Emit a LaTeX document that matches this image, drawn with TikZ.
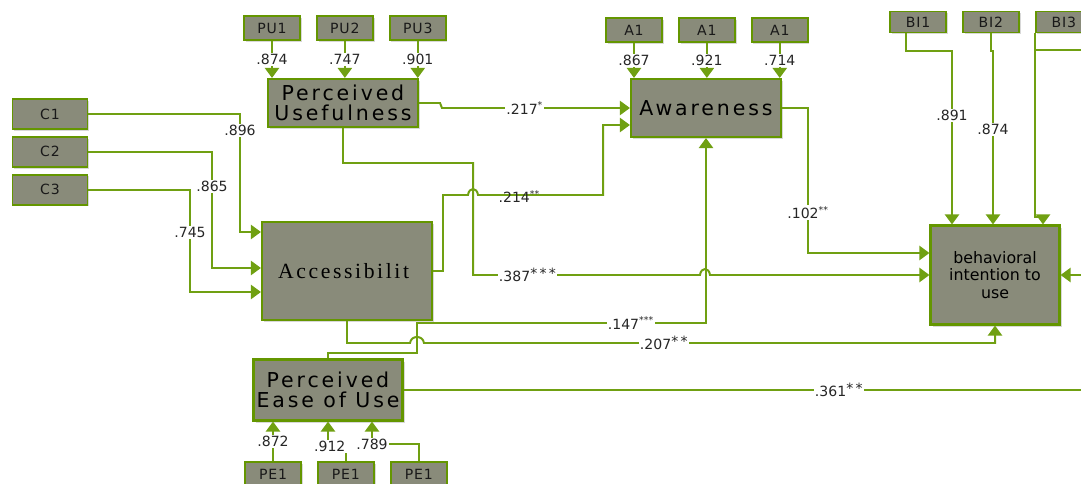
\documentclass[tikz,border=0pt]{standalone}
\usepackage{fontspec}
\setmainfont{DejaVu Sans}
\newfontfamily\cnstfont[LetterSpace=14]{DejaVu Sans}
\newfontfamily\accfont[LetterSpace=12]{Liberation Serif}
\newfontfamily\indfont[LetterSpace=6]{DejaVu Sans}
\usetikzlibrary{arrows.meta,shadows,positioning}

\definecolor{linegreen}{RGB}{112,160,18}
\definecolor{boxgreen}{RGB}{100,150,0}
\definecolor{boxgray}{RGB}{137,139,122}

\begin{document}
\begin{tikzpicture}[x=0.03cm,y=-0.03cm,->,>={Triangle[width=12pt,length=8.5pt]},
    color=linegreen,line width=1.7pt,node distance=0.45cm,
    construct/.style={draw=boxgreen,line width=1.8pt,fill=boxgray,text=black,
      align=center,inner sep=0pt,font=\cnstfont\fontsize{17.5}{17.5}\selectfont,
      drop shadow={shadow xshift=0.07cm,shadow yshift=-0.07cm,fill=black!30}},
    indicator/.style={draw=boxgreen,line width=1.6pt,fill=boxgray,text=black!90,
      inner sep=0pt,minimum width=1.68cm,minimum height=0.72cm,
      font=\indfont\fontsize{12}{12}\selectfont,
      drop shadow={shadow xshift=0.05cm,shadow yshift=-0.05cm,fill=black!30}},
    weight/.style={fill=white,inner sep=1pt,text=black!85,
      font=\fontsize{12}{12}\selectfont}]

  \clip (0,0) rectangle (1081,484);

  % constructs
  \node[construct,minimum width=4.5cm,minimum height=1.44cm] (PU) at (343,103) {Perceived\\Usefulness};
  \node[construct,minimum width=4.5cm,minimum height=1.74cm] (Aw) at (706,108) {Awareness};
  \node[construct,minimum width=5.1cm,minimum height=2.94cm,
    font=\accfont\fontsize{18.5}{18.5}\selectfont] (Acc) at (347,271) {Accessibilit\hspace*{0.2cm}};
  \node[construct,minimum width=4.47cm,minimum height=1.83cm] (PE) at (328,390) {Perceived\\Ease of Use};
  \node[construct,minimum width=3.87cm,minimum height=2.97cm,
    font=\fontsize{13.5}{15}\selectfont] (BI) at (995,275) {behavioral\\intention to\\use};

  % indicators
  \node[indicator] (PU1) at (272,28) {PU1};
  \node[indicator,right=of PU1] (PU2) {PU2};
  \node[indicator,right=of PU2] (PU3) {PU3};
  \node[indicator] (Aw1) at (634,30) {A1};
  \node[indicator,right=of Aw1] (Aw2) {A1};
  \node[indicator,right=of Aw2] (Aw3) {A1};
  \node[indicator,minimum height=0.63cm] (BI1) at (918,22) {BI1};
  \node[indicator,minimum height=0.63cm,right=of BI1] (BI2) {BI2};
  \node[indicator,minimum height=0.63cm,right=of BI2] (BI3) {BI3};
  \node[indicator,minimum width=2.25cm,minimum height=0.9cm] (C1) at (50,114) {C1};
  \node[indicator,minimum width=2.25cm,minimum height=0.9cm,below=0.18cm of C1] (C2) {C2};
  \node[indicator,minimum width=2.25cm,minimum height=0.9cm,below=0.18cm of C2] (C3) {C3};
  \node[indicator] (pe1) at (273,474) {PE1};
  \node[indicator,right=of pe1] (pe2) {PE1};
  \node[indicator,right=of pe2] (pe3) {PE1};

  % measurement paths
  \path (PU1) edge node[weight] {.874} (PU1 |- PU.north)
        (PU2) edge node[weight] {.747} (PU2 |- PU.north)
        (PU3) edge node[weight] {.901} (PU3 |- PU.north)
        (Aw1) edge node[weight] {.867} (Aw1 |- Aw.north)
        (Aw2) edge node[weight] {.921} (Aw2 |- Aw.north)
        (Aw3) edge node[weight] {.714} (Aw3 |- Aw.north)
        (pe1) edge node[weight] {.872} (pe1 |- PE.south);
  \draw (pe2.north) -- ++(0,-15) -| node[weight,pos=0.45] {.912} (PE.south);
  \draw (pe3.north) -- ++(0,-17) -| node[weight,pos=0.5] {.789} ([xshift=1.32cm]PE.south);
  \draw (C1.east) -| node[weight,pos=0.57] {.896} (240,232) -- (Acc.west |- 0,232);
  \draw (C2.east) -| node[weight,pos=0.65] {.865} (212,268) -- (Acc.west |- 0,268);
  \draw (C3.east) -| node[weight,pos=0.71] {.745} (190,292) -- (Acc.west |- 0,292);
  \draw ([xshift=-0.36cm]BI1.south) |- (952,51) -- node[weight,pos=0.37] {.891} (952,0 |- BI.north);
  \draw (BI2.south) |- (993,51) -- node[weight,pos=0.45] {.874} (993,0 |- BI.north);
  \draw (BI3.south west) |- (1043,217) -- (1043,0 |- BI.north);
  \draw[-] (BI3.south west) -- ++(0,17) -- ++(60,0);

  % structural paths
  \draw (PU.east) -- (440,103) -- (442,108) -- node[weight,pos=0.44] {.217\textsuperscript{*}} (Aw.west);
  \draw (Acc.east) -| (443,195) -- (468,195) .. controls (469,187) and (477,187) .. (478,195)
    -- node[pos=0.33,yshift=-0.04cm,text=black!85,font=\fontsize{12}{12}\selectfont] {.214\textsuperscript{**}} (603,195)
    |- (Aw.west |- 0,125);
  \draw (PU.south) -- (343,163) -| (473,275) -- node[weight,pos=0.24] {.387\raisebox{0.4ex}{*\,*\,*}} (700,275)
    .. controls (701,267) and (709,267) .. (710,275) -- (BI.west);
  \draw (Aw.east) -| node[weight,pos=0.86] {.102\textsuperscript{**}} (808,253) -- (BI.west |- 0,253);
  \draw (PE.north) |- (417,353) -- (417,323) -| node[weight,pos=0.37] {.147\textsuperscript{***}} (Aw.south);
  \draw (Acc.south) |- (410,343) .. controls (411,335) and (423,335) .. (424,343)
    -| node[weight,pos=0.21] {.207\raisebox{0.4ex}{*\,*}} (BI.south);
  \draw (PE.east) -- node[weight,pos=0.625] {.361\raisebox{0.4ex}{*\,*}} (1100,0 |- PE.east) |- (BI.east);
\end{tikzpicture}
\end{document}
